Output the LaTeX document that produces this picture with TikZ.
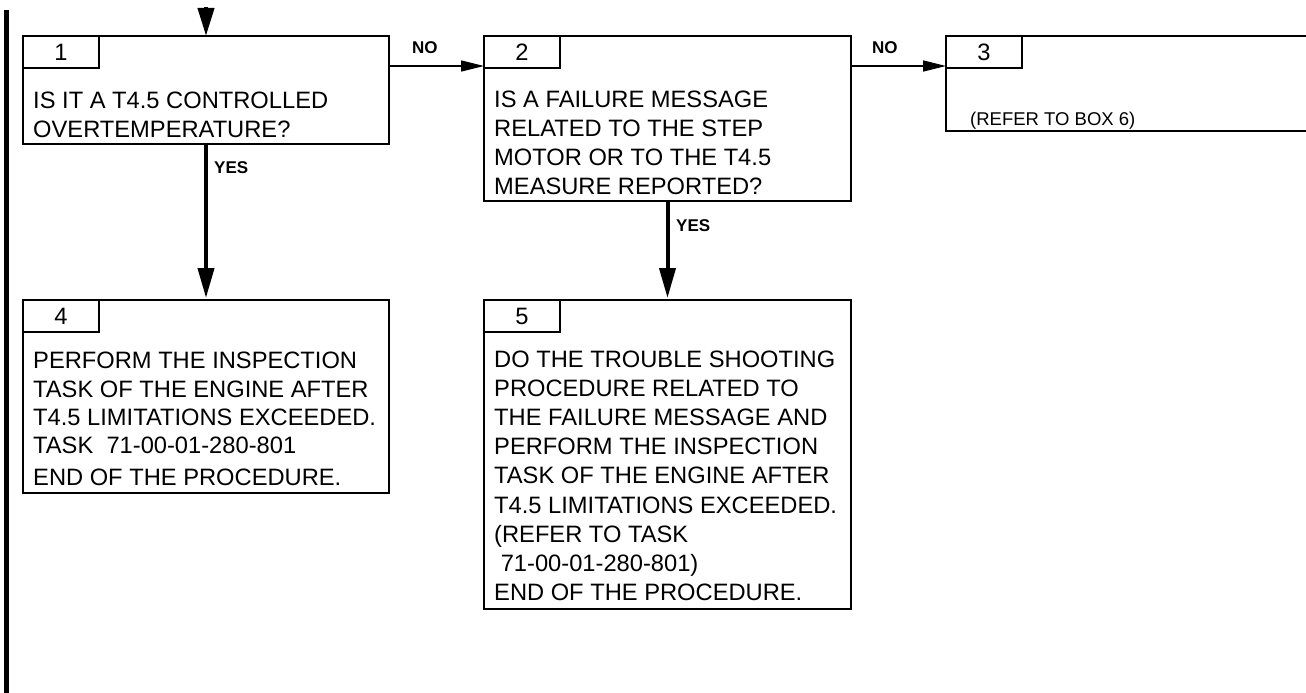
\documentclass[tikz,border=0pt]{standalone}
\usepackage{fontspec}
\setmainfont{Liberation Sans}
\usetikzlibrary{arrows.meta}
\begin{document}
\begin{tikzpicture}[x=1pt,y=-1pt,
  box/.style={draw, line width=1.6pt, rectangle, inner sep=0pt, outer sep=0pt, anchor=north west},
  tabbox/.style={box, minimum width=76pt, minimum height=32pt, font=\fontsize{23.7pt}{29pt}\selectfont},
  txt/.style={inner sep=0pt, anchor=base west, font=\fontsize{23.7pt}{29pt}\selectfont},
  lbl/.style={inner sep=0pt, anchor=base west, font=\bfseries\fontsize{17pt}{20pt}\selectfont},
  note/.style={inner sep=0pt, anchor=base west, font=\fontsize{18.5pt}{22pt}\selectfont},
  noarrow/.style={line width=1.3pt, -{Triangle[length=23pt,width=11pt]}},
  yesarrow/.style={line width=4pt, -{Triangle[length=30pt,width=16pt]}},
  inarrow/.style={line width=4pt, -{Triangle[length=28pt,width=16pt]}},
]
\useasboundingbox (0,0) rectangle (1306,693);
\clip (0,0) rectangle (1306,693);

% margin bar
\fill (4,10) rectangle (9,693);

% boxes
\node[box, minimum width=366pt, minimum height=108pt] (b1) at (23,36) {};
\node[box, minimum width=367pt, minimum height=165pt] (b2) at (484,36) {};
\node[box, minimum width=400pt, minimum height=95pt]  (b3) at (946,36) {};
\node[box, minimum width=366pt, minimum height=193pt] (b4) at (23,300) {};
\node[box, minimum width=367pt, minimum height=309pt] (b5) at (484,300) {};

% number tabs
\node[tabbox] (n1) at (b1.north west) {1};
\node[tabbox] (n2) at (b2.north west) {2};
\node[tabbox] (n3) at (b3.north west) {3};
\node[tabbox] (n4) at (b4.north west) {4};
\node[tabbox] (n5) at (b5.north west) {5};

% box texts
\node[txt] (b1-0) at (33,108) {IS IT A T4.5 CONTROLLED};
\node[txt] (b1-1) at (33,137) {OVERTEMPERATURE?};

\foreach \t [count=\i from 0] in {IS A FAILURE MESSAGE, RELATED TO THE STEP,
    MOTOR OR TO THE T4.5, MEASURE REPORTED?}
  \node[txt] (b2-\i) at (494,{107+29*\i}) {\t};

\node[note] (b3-0) at (970,125) {(REFER TO BOX 6)};

\node[txt] (b4-0) at (33,368) {PERFORM THE INSPECTION};
\node[txt] (b4-1) at (33,397) {TASK OF THE ENGINE AFTER};
\node[txt] (b4-2) at (33,425.5) {T4.5 LIMITATIONS EXCEEDED.};
\node[txt] (b4-3) at (33,453) {TASK\ \ 71-00-01-280-801};
\node[txt] (b4-4) at (33,485) {END OF THE PROCEDURE.};

\foreach \t [count=\i from 0] in {{DO THE TROUBLE SHOOTING}, {PROCEDURE RELATED TO},
    {THE FAILURE MESSAGE AND}, {PERFORM THE INSPECTION}, {TASK OF THE ENGINE AFTER},
    {T4.5 LIMITATIONS EXCEEDED.}, {(REFER TO TASK}, {\ 71-00-01-280-801)},
    {END OF THE PROCEDURE.}}
  \node[txt] (b5-\i) at (494,{367+29.2*\i}) {\t};

% connectors
\coordinate (entry) at (206,7);
\draw[inarrow] (entry) -- (b1.north);
\draw[noarrow] ([yshift=-30pt]b1.north east) -- ([yshift=-30pt]b2.north west);
\draw[noarrow] ([yshift=-30pt]b2.north east) -- ([yshift=-30pt]b3.north west);
\draw[yesarrow] (b1.south) -- ([yshift=2pt]b4.north);
\draw[yesarrow] (b2.south) -- ([yshift=2pt]b5.north);

% branch labels
\node[lbl] (no1) at (412,53) {NO};
\node[lbl] (no2) at (872,53) {NO};
\node[lbl] (yes1) at (214,173) {YES};
\node[lbl] (yes2) at (676,231) {YES};
\end{tikzpicture}
\end{document}
